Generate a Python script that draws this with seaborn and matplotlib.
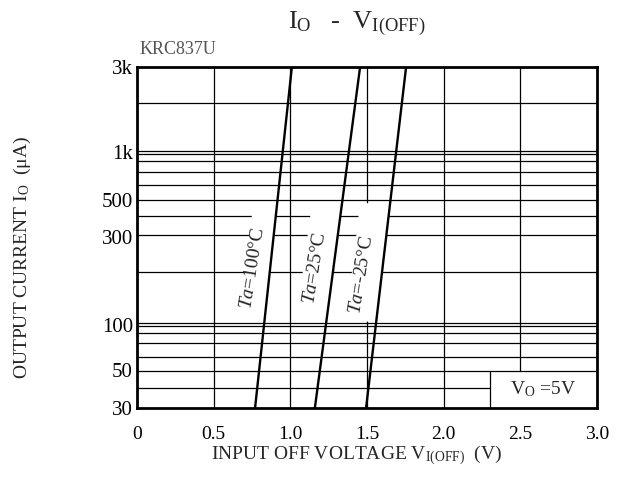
import numpy as np
import pandas as pd
import matplotlib
matplotlib.use("Agg")
import matplotlib.pyplot as plt
import seaborn as sns

# ---- data ----
series_names = ["Ta=100°C", "Ta=25°C", "Ta=-25°C"]
current_ends = [30, 3000]                      # µA
v_100 = [0.77, 1.01]                           # V at 30 µA, 3 mA
v_25 = [1.16, 1.455]
v_m25 = [1.494, 1.755]
label_texts = [r"$\it{Ta}$=100°C", r"$\it{Ta}$=25°C", r"$\it{Ta}$=-25°C"]
label_x = [0.757, 1.161, 1.468]
label_y = [198, 198, 181]
mask_width = [0.16, 0.2, 0.2]

x_ticks = [0, 0.5, 1.0, 1.5, 2.0, 2.5, 3.0]
x_ticklabels = ["0", "0.5", "1.0", "1.5", "2.0", "2.5", "3.0"]
y_ticks = [3000, 946, 500, 300, 92.5, 50, 30]
y_ticklabels = ["3k", "1k", "500", "300", "100", "50", "30"]

# datasheet grid (irregular, as drawn)
h_grid = [1845, 965, 927, 843, 726, 610, 498, 401, 311, 188,
          94.9, 90.5, 82.5, 72, 59.6, 49.3]
h_grid_short = [39.2]          # ends at the V_O box
v_grid = [0.5, 1.0, 1.5, 2.0]
box_x = 2.3
box_top = 49.3

sns.set_theme(style="white")
plt.rcParams["font.family"] = ["Liberation Serif", "DejaVu Serif"]
plt.rcParams["mathtext.fontset"] = "custom"
plt.rcParams["mathtext.rm"] = "Liberation Serif"
plt.rcParams["mathtext.it"] = "Liberation Serif:italic"
plt.rcParams["mathtext.bf"] = "Liberation Serif:bold"

fig = plt.figure(figsize=(6.21, 4.98), dpi=100)
ax = fig.add_axes([137 / 621, 1 - 408 / 498, 460 / 621, 341 / 498])
ax.set_yscale("log")
ax.set_xlim(0, 3.0)
ax.set_ylim(30, 3000)

gkw = dict(color="black", lw=0.9, zorder=1)
ax.hlines(h_grid, 0, 3.0, **gkw)
ax.hlines(h_grid_short, 0, box_x, **gkw)
ax.vlines(v_grid, 30, 3000, **gkw)
ax.vlines([2.5], box_top, 3000, **gkw)
ax.vlines([box_x], 30, box_top, **gkw)

df = pd.DataFrame({
    "V": v_100 + v_25 + v_m25,
    "I": current_ends * 3,
    "Ta": [series_names[0]] * 2 + [series_names[1]] * 2 + [series_names[2]] * 2,
})

# white bands to the left of each curve, where labels sit
band = np.geomspace(97, 480, 50)
for name, w in zip(series_names, mask_width):
    sub = df[df["Ta"] == name]
    xc = np.interp(np.log10(band), np.log10(sub["I"].values), sub["V"].values)
    ax.fill_betweenx(band, xc - w, xc, color="white", lw=0, zorder=2)

sns.lineplot(data=df, x="V", y="I", units="Ta", estimator=None,
             color="black", lw=1.7, ax=ax, zorder=3, legend=False)

for t, x, y in zip(label_texts, label_x, label_y):
    ax.text(x, y, t, rotation=81, rotation_mode="anchor", ha="center",
            va="center", fontsize=14, zorder=4)

ax.text((box_x + 3.0) / 2, np.sqrt(30 * box_top), r"V$_{\rm O}$ =5V",
        ha="center", va="center", fontsize=14, zorder=4)

ax.set_xticks(x_ticks)
ax.set_xticklabels(x_ticklabels, fontsize=14)
ax.set_yticks(y_ticks)
ax.set_yticklabels(y_ticklabels, fontsize=15)
ax.yaxis.set_minor_locator(matplotlib.ticker.NullLocator())
ax.tick_params(axis="both", length=0, colors="black")
ax.tick_params(axis="x", pad=13)
ax.tick_params(axis="y", pad=3)
ax.set_xlabel("")
ax.set_ylabel("")
for s in ax.spines.values():
    s.set_visible(True)
    s.set_color("black")
    s.set_linewidth(2)
    s.set_zorder(5)

fig.text(357 / 621, 1 - 455 / 498, r"INPUT OFF VOLTAGE V$_{\rm I(OFF)}$  (V)",
         ha="center", va="center", fontsize=14)
fig.text(22 / 621, 1 - 257 / 498, r"OUTPUT CURRENT I$_{\rm O}$  (μA)",
         ha="center", va="center", rotation=90, fontsize=14)
fig.text(357 / 621, 1 - 24 / 498, r"I$_{\rm O}$   -  V$_{\rm I(OFF)}$",
         ha="center", va="center", fontsize=19)
fig.text(140 / 621, 1 - 50 / 498, "KRC837U", ha="left", va="center",
         fontsize=13, color="#555555")

fig.savefig("out.png", dpi=100)
